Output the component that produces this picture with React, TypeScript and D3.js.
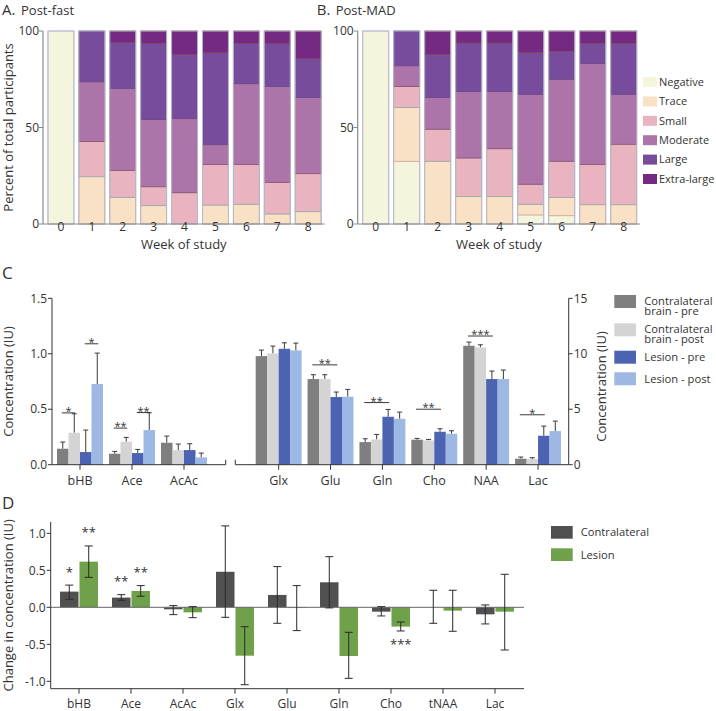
import React from "react";
import * as d3 from "d3";

// ---------- Panel A / B data ----------
const weeks = ["0", "1", "2", "3", "4", "5", "6", "7", "8"];
const severityLevels = ["Negative", "Trace", "Small", "Moderate", "Large", "Extra-large"];
const severityColors = ["#f5f4dc", "#f9e1c5", "#e9b3c0", "#ad74aa", "#774c9c", "#742983"];
const severityStrokes = ["#bcc0da", "#d8a48e", "#93aaae", "#8a4d6a", "#6a4a8e", "#8a4458"];

const fastNegative = [100, 0, 0, 0, 0, 0, 0, 0, 0];
const fastTrace = [0, 24.5, 13.8, 9.5, 0, 9.8, 10.2, 5.2, 6.4];
const fastSmall = [0, 18.3, 14.0, 9.8, 16.2, 21.1, 20.7, 16.4, 19.7];
const fastModerate = [0, 30.9, 42.5, 34.8, 38.4, 10.2, 41.8, 49.6, 39.5];
const fastLarge = [0, 26.3, 23.8, 39.5, 33.3, 47.7, 20.9, 22.2, 20.1];
const fastExtraLarge = [0, 0, 5.9, 6.4, 12.1, 11.2, 6.4, 6.6, 14.3];

const madNegative = [100, 32.5, 0, 0, 0, 4.7, 4.3, 0, 0];
const madTrace = [0, 27.8, 32.5, 14.3, 14.3, 5.5, 9.5, 10.0, 10.0];
const madSmall = [0, 10.9, 16.6, 19.9, 24.7, 10.4, 18.7, 20.9, 31.3];
const madModerate = [0, 10.8, 16.5, 34.5, 29.7, 46.6, 42.5, 52.2, 25.9];
const madLarge = [0, 18.0, 22.3, 25.1, 25.1, 21.6, 14.5, 10.5, 26.4];
const madExtraLarge = [0, 0, 12.1, 6.2, 6.2, 11.2, 10.5, 6.4, 6.4];

const percentTicks = [0, 50, 100];

// ---------- Panel C data ----------
const concSeries = ["Contralateral brain - pre", "Contralateral brain - post", "Lesion - pre", "Lesion - post"];
const concLegendLines = [["Contralateral", "brain - pre"], ["Contralateral", "brain - post"], ["Lesion - pre"], ["Lesion - post"]];
const concColors = ["#7f7f7f", "#d4d4d4", "#4b63b1", "#9db8e3"];

const ketoneMetabolites = ["bHB", "Ace", "AcAc"];
const ketoneContraPre = [0.144, 0.099, 0.198];
const ketoneContraPreErr = [0.06, 0.021, 0.06];
const ketoneContraPost = [0.288, 0.207, 0.132];
const ketoneContraPostErr = [0.171, 0.039, 0.054];
const ketoneLesionPre = [0.114, 0.105, 0.132];
const ketoneLesionPreErr = [0.198, 0.033, 0.057];
const ketoneLesionPost = [0.727, 0.312, 0.066];
const ketoneLesionPostErr = [0.279, 0.156, 0.039];

const otherMetabolites = ["Glx", "Glu", "Gln", "Cho", "NAA", "Lac"];
const otherContraPre = [9.79, 7.72, 2.04, 2.25, 10.72, 0.54];
const otherContraPreErr = [0.54, 0.39, 0.30, 0.12, 0.33, 0.15];
const otherContraPost = [10.03, 7.72, 2.28, 2.19, 10.57, 0.51];
const otherContraPostErr = [0.66, 0.39, 0.45, 0.09, 0.24, 0.12];
const otherLesionPre = [10.45, 6.10, 4.32, 2.97, 7.72, 2.61];
const otherLesionPreErr = [0.54, 0.45, 0.66, 0.27, 0.72, 0.87];
const otherLesionPost = [10.30, 6.13, 4.14, 2.79, 7.72, 3.03];
const otherLesionPostErr = [0.66, 0.66, 0.60, 0.27, 0.81, 0.90];

const ketoneSig = [
  { metabolite: "bHB", from: 0, to: 1, level: 0.467, label: "*" },
  { metabolite: "bHB", from: 2, to: 3, level: 1.09, label: "*" },
  { metabolite: "Ace", from: 0, to: 1, level: 0.33, label: "**" },
  { metabolite: "Ace", from: 2, to: 3, level: 0.47, label: "**" },
];
const otherSig = [
  { metabolite: "Glu", from: 0, to: 2, level: 9.0, label: "**" },
  { metabolite: "Gln", from: 0, to: 2, level: 5.6, label: "**" },
  { metabolite: "Cho", from: 0, to: 2, level: 5.0, label: "**" },
  { metabolite: "NAA", from: 0, to: 2, level: 11.6, label: "***" },
  { metabolite: "Lac", from: 0, to: 2, level: 4.5, label: "*" },
];
const ketoneTicks = [0, 0.5, 1.0, 1.5];
const otherTicks = [0, 5, 10, 15];

// ---------- Panel D data ----------
const changeMetabolites = ["bHB", "Ace", "AcAc", "Glx", "Glu", "Gln", "Cho", "tNAA", "Lac"];
const changeSeries = ["Contralateral", "Lesion"];
const changeColors = ["#505050", "#6fa14a"];
const contraChange = [0.212, 0.131, -0.027, 0.48, 0.167, 0.338, -0.059, 0.0, -0.095];
const contraLow = [0.108, 0.095, -0.099, -0.135, -0.216, -0.008, -0.117, -0.216, -0.225];
const contraHigh = [0.30, 0.171, 0.023, 1.10, 0.55, 0.684, 0.009, 0.23, 0.032];
const lesionChange = [0.617, 0.221, -0.068, -0.654, -0.01, -0.658, -0.261, -0.045, -0.059];
const lesionLow = [0.405, 0.149, -0.14, -1.046, -0.315, -0.96, -0.32, -0.324, -0.577];
const lesionHigh = [0.829, 0.293, 0.009, -0.262, 0.293, -0.338, -0.198, 0.23, 0.446];
const contraStars = ["*", "**", "", "", "", "", "", "", ""];
const lesionStars = ["**", "**", "", "", "", "", "***", "", ""];
const changeTicks = [-1, -0.5, 0, 0.5, 1];
const changeTickLabels = ["-1.0", "-0.5", "0.0", "0.5", "1.0"];

const FONT = "'Open Sans', 'Noto Sans', sans-serif";
const TXT = "#333";

function StackPanel({ cols, x0, x1, axisX, letter, title }: any) {
  const y = d3.scaleLinear().domain([0, 100]).range([224, 31]);
  const x = d3.scaleBand().domain(weeks).range([x0, x1]).paddingInner(0.16).paddingOuter(0.08);
  const rows = weeks.map((w, i) => {
    const r: any = { week: w };
    severityLevels.forEach((k, j) => (r[k] = cols[j][i]));
    return r;
  });
  const stacked = d3.stack().keys(severityLevels)(rows);
  const axisEnd = x1 + 1;
  return (
    <g>
      <text x={axisX - 41} y={15} fontSize={15} fill={TXT}>{letter}</text>
      <text x={axisX - 22} y={15} fontSize={13} fill={TXT}>{title}</text>
      {stacked.map((s: any, si: number) =>
        s.map((d: any, i: number) => {
          const h = y(d[0]) - y(d[1]);
          if (h <= 0.01) return null;
          return (
            <rect key={si + "-" + i} x={x(weeks[i])} y={y(d[1])} width={x.bandwidth()} height={h}
              fill={severityColors[si]} stroke={severityStrokes[si]} strokeWidth={0.8} />
          );
        })
      )}
      {weeks.map((w) => (
        <rect key={"o" + w} x={x(w)} y={y(100)} width={x.bandwidth()} height={y(0) - y(100)}
          fill="none" stroke="#b5b9cb" strokeWidth={1} />
      ))}
      <line x1={axisX} x2={axisX} y1={y(100)} y2={y(0)} stroke="#8a8a8a" strokeWidth={1.2} />
      <line x1={axisX} x2={axisEnd} y1={y(0)} y2={y(0)} stroke="#8a8a8a" strokeWidth={1.2} />
      {percentTicks.map((t) => (
        <g key={t}>
          <line x1={axisX - 4} x2={axisX} y1={y(t)} y2={y(t)} stroke="#8a8a8a" />
          <text x={axisX - 4} y={y(t)} dy="0.35em" textAnchor="end" fontSize={12} fill={TXT}>{t}</text>
        </g>
      ))}
      {weeks.map((w) => (
        <text key={"t" + w} x={(x(w) as number) + x.bandwidth() / 2} y={231} textAnchor="middle" fontSize={12} fill={TXT}>{w}</text>
      ))}
      <text x={(axisX + axisEnd) / 2} y={248.5} textAnchor="middle" fontSize={13} fill={TXT}>Week of study</text>
    </g>
  );
}

function GroupBars({ metabolites, means, errs, x0, y, sig }: any) {
  const x1 = d3.scaleBand().domain(concSeries.map((_, i) => String(i))).range([0, x0.bandwidth()]);
  const cx = (m: string, s: number) => x0(m) + (x1(String(s)) as number) + x1.bandwidth() / 2;
  return (
    <g>
      {metabolites.map((m: string, mi: number) =>
        concSeries.map((_, si) => {
          const v = means[si][mi];
          const top = y(v + errs[si][mi]);
          const c = cx(m, si);
          return (
            <g key={m + si}>
              <line x1={c} x2={c} y1={y(v)} y2={top} stroke="#3a3a3a" strokeWidth={1} />
              <line x1={c - 2.5} x2={c + 2.5} y1={top} y2={top} stroke="#3a3a3a" strokeWidth={1} />
              <rect x={x0(m) + (x1(String(si)) as number)} y={y(v)} width={x1.bandwidth()} height={y(0) - y(v)} fill={concColors[si]} />
            </g>
          );
        })
      )}
      {sig.map((s: any, i: number) => {
        const a = cx(s.metabolite, s.from) - 1;
        const b = cx(s.metabolite, s.to) + 1;
        const ly = y(s.level);
        return (
          <g key={"s" + i}>
            <line x1={a} x2={b} y1={ly} y2={ly} stroke="#3a3a3a" strokeWidth={1} />
            <text x={(a + b) / 2} y={ly + 2} textAnchor="middle" fontSize={11} fill={TXT}>{s.label}</text>
          </g>
        );
      })}
      {metabolites.map((m: string) => (
        <g key={"xt" + m}>
          <line x1={x0(m) + x0.bandwidth() / 2} x2={x0(m) + x0.bandwidth() / 2} y1={y(0)} y2={y(0) + 5} stroke="#333" />
          <text x={x0(m) + x0.bandwidth() / 2} y={485} textAnchor="middle" fontSize={12.5} fill={TXT}>{m}</text>
        </g>
      ))}
    </g>
  );
}

function PanelC() {
  const yL = d3.scaleLinear().domain([0, 1.5]).range([464.7, 298.3]);
  const yR = d3.scaleLinear().domain([0, 15]).range([464.7, 298.3]);
  const xL = d3.scaleBand().domain(ketoneMetabolites).range([54, 210]).paddingInner(0.115).paddingOuter(0.0577);
  const xR = d3.scaleBand().domain(otherMetabolites).range([252.7, 564]).paddingInner(0.115).paddingOuter(0.0577);
  const leftAxis = 52, rightAxis = 568.7, base = yL(0);
  return (
    <g>
      <text x={2} y={279} fontSize={17} fill={TXT}>C</text>
      <GroupBars metabolites={ketoneMetabolites}
        means={[ketoneContraPre, ketoneContraPost, ketoneLesionPre, ketoneLesionPost]}
        errs={[ketoneContraPreErr, ketoneContraPostErr, ketoneLesionPreErr, ketoneLesionPostErr]}
        x0={xL} y={yL} sig={ketoneSig} />
      <GroupBars metabolites={otherMetabolites}
        means={[otherContraPre, otherContraPost, otherLesionPre, otherLesionPost]}
        errs={[otherContraPreErr, otherContraPostErr, otherLesionPreErr, otherLesionPostErr]}
        x0={xR} y={yR} sig={otherSig} />
      <line x1={leftAxis} x2={leftAxis} y1={yL(1.5)} y2={base} stroke="#333" />
      <path d={`M${leftAxis},${base}H225.7V${base - 5}`} fill="none" stroke="#333" />
      <path d={`M235.3,${base - 5}V${base}H${rightAxis}`} fill="none" stroke="#333" />
      <line x1={rightAxis} x2={rightAxis} y1={yR(15)} y2={base} stroke="#333" />
      {ketoneTicks.map((t) => (
        <g key={"kl" + t}>
          <line x1={leftAxis - 4} x2={leftAxis} y1={yL(t)} y2={yL(t)} stroke="#333" />
          <text x={leftAxis - 5} y={yL(t)} dy="0.35em" textAnchor="end" fontSize={12} fill={TXT}>{d3.format(".1f")(t)}</text>
        </g>
      ))}
      {otherTicks.map((t) => (
        <g key={"ol" + t}>
          <line x1={rightAxis} x2={rightAxis + 4} y1={yR(t)} y2={yR(t)} stroke="#333" />
          <text x={rightAxis + 5} y={yR(t)} dy="0.35em" textAnchor="start" fontSize={12} fill={TXT}>{t}</text>
        </g>
      ))}
      <text transform={`translate(13,${(yL(1.5) + base) / 2}) rotate(-90)`} textAnchor="middle" fontSize={13} fill={TXT}>Concentration (IU)</text>
      <text transform={`translate(606,${(yL(1.5) + base) / 2 + 5}) rotate(-90)`} textAnchor="middle" fontSize={13} fill={TXT}>Concentration (IU)</text>
      {concSeries.map((s, i) => {
        const top = [295, 323.3, 350.7, 372.3][i];
        const lines = concLegendLines[i];
        const firstY = top + 6.5 - (lines.length - 1) * 0.8;
        return (
          <g key={"lg" + i}>
            <rect x={614.3} y={top} width={21.7} height={13} fill={concColors[i]} />
            <text x={644.3} y={firstY} dy="0.35em" fontSize={11.2} fill={TXT}>
              {lines.map((ln, li) => (
                <tspan key={li} x={644.3} dy={li === 0 ? "0.35em" : "10.5"}>{ln}</tspan>
              ))}
            </text>
          </g>
        );
      })}
    </g>
  );
}

function PanelD() {
  const y = d3.scaleLinear().domain([-1, 1]).range([681.3, 533.3]);
  const x0 = d3.scaleBand().domain(changeMetabolites).range([53, 521]).paddingInner(0.27).paddingOuter(0.135);
  const x1 = d3.scaleBand().domain(changeSeries).range([0, x0.bandwidth()]).paddingInner(0.05);
  const axisX = 50.7, axisBottom = 688.7, axisRight = 524;
  const means = [contraChange, lesionChange];
  const lows = [contraLow, lesionLow];
  const highs = [contraHigh, lesionHigh];
  const stars = [contraStars, lesionStars];
  return (
    <g>
      <text x={2} y={509} fontSize={17} fill={TXT}>D</text>
      {changeMetabolites.map((m, mi) =>
        changeSeries.map((s, si) => {
          const v = means[si][mi];
          const bx = x0(m)! + x1(s)!;
          return (
            <rect key={m + s} x={bx} y={Math.min(y(v), y(0))} width={x1.bandwidth()} height={Math.abs(y(v) - y(0))} fill={changeColors[si]} />
          );
        })
      )}
      <line x1={axisX} x2={axisRight} y1={y(0)} y2={y(0)} stroke="#666" strokeWidth={1} />
      {changeMetabolites.map((m, mi) =>
        changeSeries.map((s, si) => {
          const c = x0(m)! + x1(s)! + x1.bandwidth() / 2;
          const hi = y(highs[si][mi]);
          const lo = y(lows[si][mi]);
          const st = stars[si][mi];
          const below = means[si][mi] < 0;
          return (
            <g key={"e" + m + s}>
              <line x1={c} x2={c} y1={hi} y2={lo} stroke="#2a2a2a" strokeWidth={1} />
              <line x1={c - 4} x2={c + 4} y1={hi} y2={hi} stroke="#2a2a2a" strokeWidth={1} />
              <line x1={c - 4} x2={c + 4} y1={lo} y2={lo} stroke="#2a2a2a" strokeWidth={1} />
              {st && (
                <text x={c} y={below ? lo + 18 : hi - 8.5} textAnchor="middle" fontSize={13} fill={TXT}>{st}</text>
              )}
            </g>
          );
        })
      )}
      <line x1={axisX} x2={axisX} y1={522} y2={axisBottom} stroke="#333" />
      <line x1={axisX} x2={axisRight} y1={axisBottom} y2={axisBottom} stroke="#333" />
      {changeTicks.map((t, i) => (
        <g key={"dt" + t}>
          <line x1={axisX - 4} x2={axisX} y1={y(t)} y2={y(t)} stroke="#333" />
          <text x={axisX - 5} y={y(t)} dy="0.35em" textAnchor="end" fontSize={12} fill={TXT}>{changeTickLabels[i]}</text>
        </g>
      ))}
      {changeMetabolites.map((m) => (
        <g key={"dx" + m}>
          <line x1={x0(m)! + x0.bandwidth() / 2} x2={x0(m)! + x0.bandwidth() / 2} y1={axisBottom} y2={axisBottom + 5} stroke="#333" />
          <text x={x0(m)! + x0.bandwidth() / 2} y={707.5} textAnchor="middle" fontSize={12} fill={TXT}>{m}</text>
        </g>
      ))}
      <text transform={`translate(13,${(522 + axisBottom) / 2}) rotate(-90)`} textAnchor="middle" fontSize={13} fill={TXT}>Change in concentration (IU)</text>
      {changeSeries.map((s, i) => (
        <g key={"dl" + s}>
          <rect x={551} y={526 + i * 22.3} width={21.7} height={12.7} fill={changeColors[i]} />
          <text x={580.7} y={532.3 + i * 22.3} dy="0.35em" fontSize={11.2} fill={TXT}>{s}</text>
        </g>
      ))}
    </g>
  );
}

export default function App() {
  return (
    <svg width={716} height={711} style={{ position: "absolute", left: 0, top: 0, background: "#fff" }} fontFamily={FONT}>
      <StackPanel cols={[fastNegative, fastTrace, fastSmall, fastModerate, fastLarge, fastExtraLarge]}
        x0={45.5} x1={323.6} axisX={43} letter="A." title="Post-fast" />
      <StackPanel cols={[madNegative, madTrace, madSmall, madModerate, madLarge, madExtraLarge]}
        x0={360.2} x1={639.2} axisX={357.7} letter="B." title="Post-MAD" />
      <text transform={`translate(13,127.5) rotate(-90)`} textAnchor="middle" fontSize={13} fill={TXT}>Percent of total participants</text>
      {severityLevels.map((s, i) => (
        <g key={"al" + s}>
          <rect x={643} y={77 + i * 19.4} width={14} height={10} fill={severityColors[i]} />
          <text x={659} y={82 + i * 19.4} dy="0.35em" fontSize={11} fill={TXT}>{s}</text>
        </g>
      ))}
      <PanelC />
      <PanelD />
    </svg>
  );
}
